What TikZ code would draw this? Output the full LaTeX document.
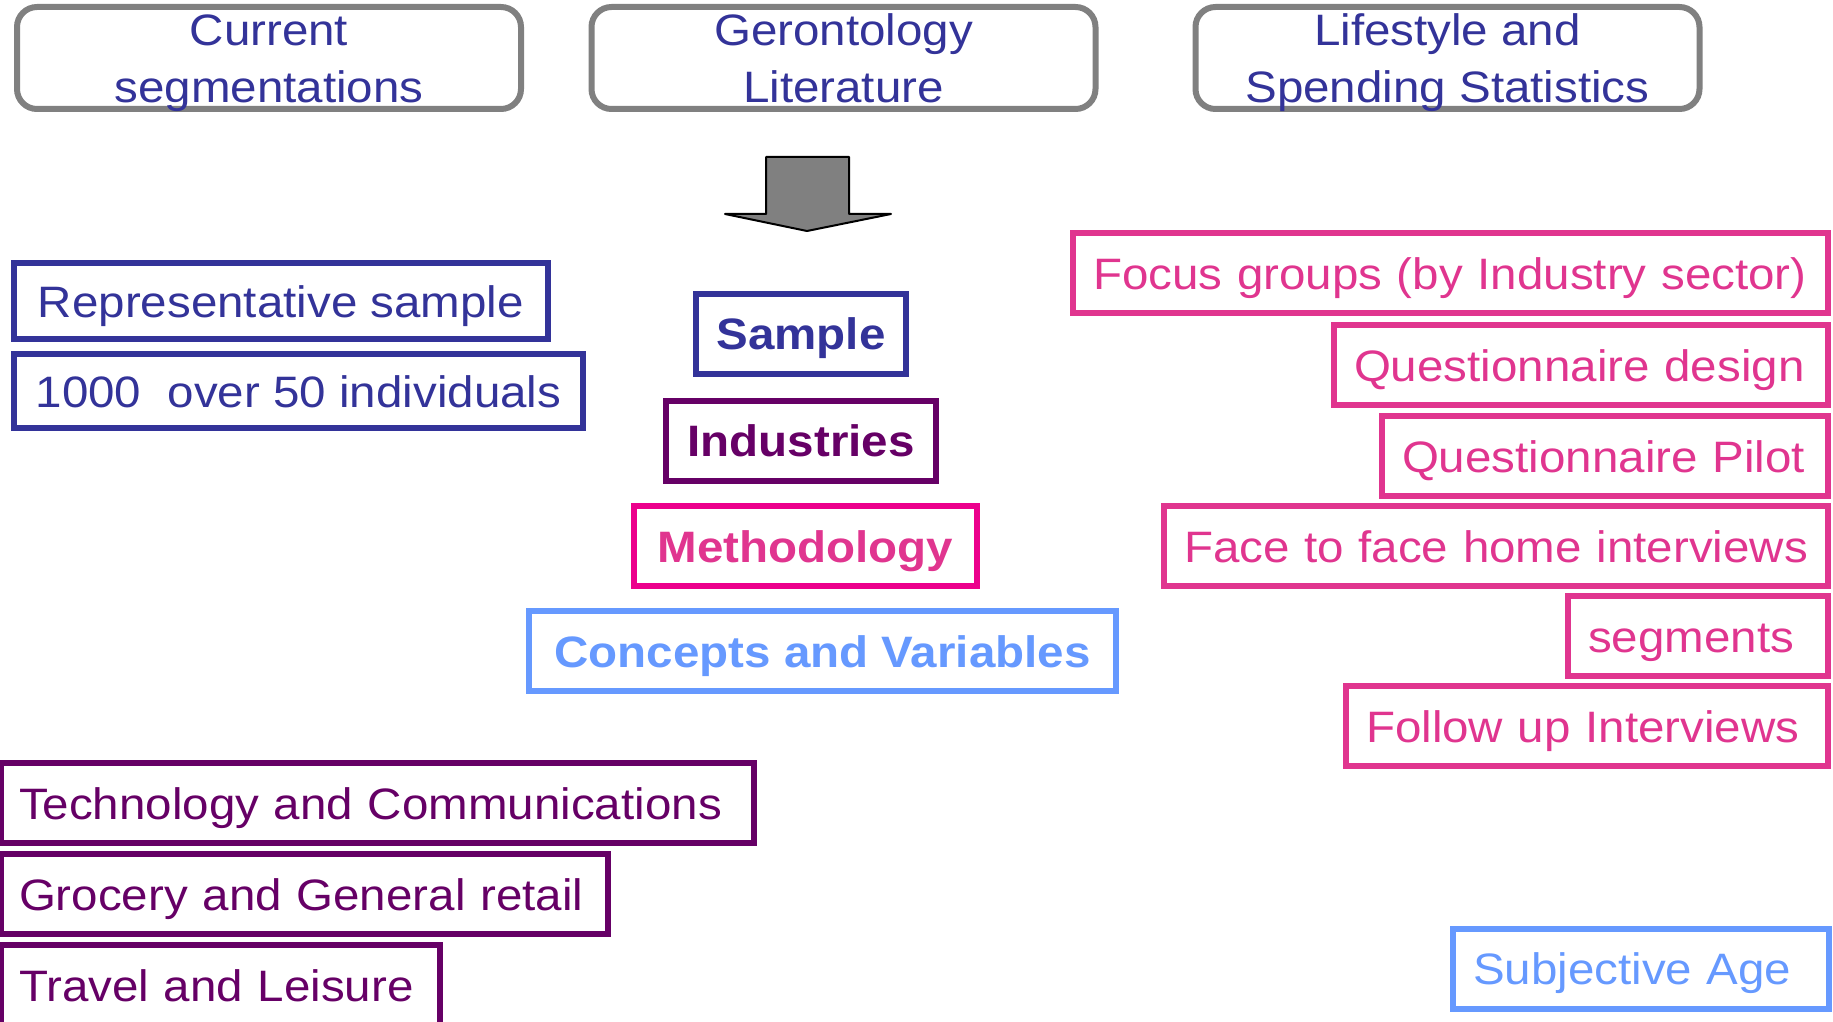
\documentclass[tikz,border=0pt]{standalone}
\usepackage{fontspec}
\setmainfont{Liberation Sans}[FakeStretch=1.08]
\usepackage{tikz}

\definecolor{navy}{HTML}{333399}
\definecolor{plum}{HTML}{660066}
\definecolor{rose}{HTML}{E0358F}
\definecolor{sky}{HTML}{6699FF}

\begin{document}
\begin{tikzpicture}[x=0.5pt,y=-0.5pt,
  every node/.style={font=\fontsize{22}{28.5}\selectfont},
  box/.style={draw,line width=3pt,inner sep=0pt,text height=16pt,text depth=0pt,minimum height=40pt},
  srcbox/.style={draw=gray,line width=3pt,rounded corners=10pt,inner sep=0pt,align=center,text=navy,
    minimum width=252pt,minimum height=51pt,text height=45pt,text depth=0pt},
  leftbox/.style={align=left,inner xsep=#1},
  leftbox/.default=9pt,
  navybox/.style={box,draw=navy,text=navy},
  plumbox/.style={box,draw=plum,text=plum},
  rosebox/.style={box,draw=rose,text=rose,leftbox=10pt},
  skybox/.style={box,draw=sky,text=sky}]
\useasboundingbox (0,0) rectangle (1833,1022);
% Sources
\node[srcbox] (curseg) at (269,58) {Current\\segmentations};
\node[srcbox] (geront) at (843.5,58) {Gerontology\\Literature};
\node[srcbox] (lifestyle) at (1447.5,58) {Lifestyle and\\Spending Statistics};
% Block arrow
\filldraw[fill=gray,draw=black,line width=1pt,line join=round] (766,157) -- (849,157) -- (849,214) -- (891,214)
  -- (807,231) -- (725,214) -- (766,214) -- cycle;
% Sample details
\node[navybox,minimum width=267pt,minimum height=38pt] (repsample) at (281,301) {Representative sample};
\node[navybox,minimum width=284.5pt,minimum height=37pt] (thousand) at (298.5,391) {1000\ \ over 50 individuals};
% Study blocks
\node[navybox,minimum width=105pt,font=\fontsize{22}{27.5}\selectfont\bfseries] (sample) at (801,333.5) {Sample};
\node[plumbox,minimum width=135pt,font=\fontsize{22}{27.5}\selectfont\bfseries] (industries) at (801,440.5) {Industries};
\node[box,draw=magenta,text=rose,minimum width=171.5pt,font=\fontsize{22}{27.5}\selectfont\bfseries] (method) at (805.5,546) {Methodology};
\node[skybox,minimum width=293.5pt,font=\fontsize{22}{27.5}\selectfont\bfseries] (concepts) at (822.5,651) {Concepts and Variables};
% Methodology steps
\node[rosebox,text width=357.5pt] (focus) at (1450.5,273) {Focus groups (by Industry sector)};
\node[rosebox,text width=227pt] (qdesign) at (1581,365) {Questionnaire design};
\node[rosebox,text width=203pt] (qpilot) at (1605,456) {Questionnaire Pilot};
\node[rosebox,text width=312pt] (facetoface) at (1496,546) {Face to face home interviews};
\node[rosebox,text width=110pt] (segments) at (1698,636) {segments};
\node[rosebox,text width=221pt] (followup) at (1587,726) {Follow up Interviews};
% Industries
\node[plumbox,leftbox,text width=358.5pt] (tech) at (377.5,803) {Technology and Communications};
\node[plumbox,leftbox,text width=285.5pt] (grocery) at (304.5,894) {Grocery and General retail};
\node[plumbox,leftbox,text width=201.5pt] (travel) at (220.5,985) {Travel and Leisure};
% Concepts
\node[skybox,leftbox=10pt,text width=168pt] (subjage) at (1641,968.5) {Subjective Age};
\end{tikzpicture}
\end{document}
